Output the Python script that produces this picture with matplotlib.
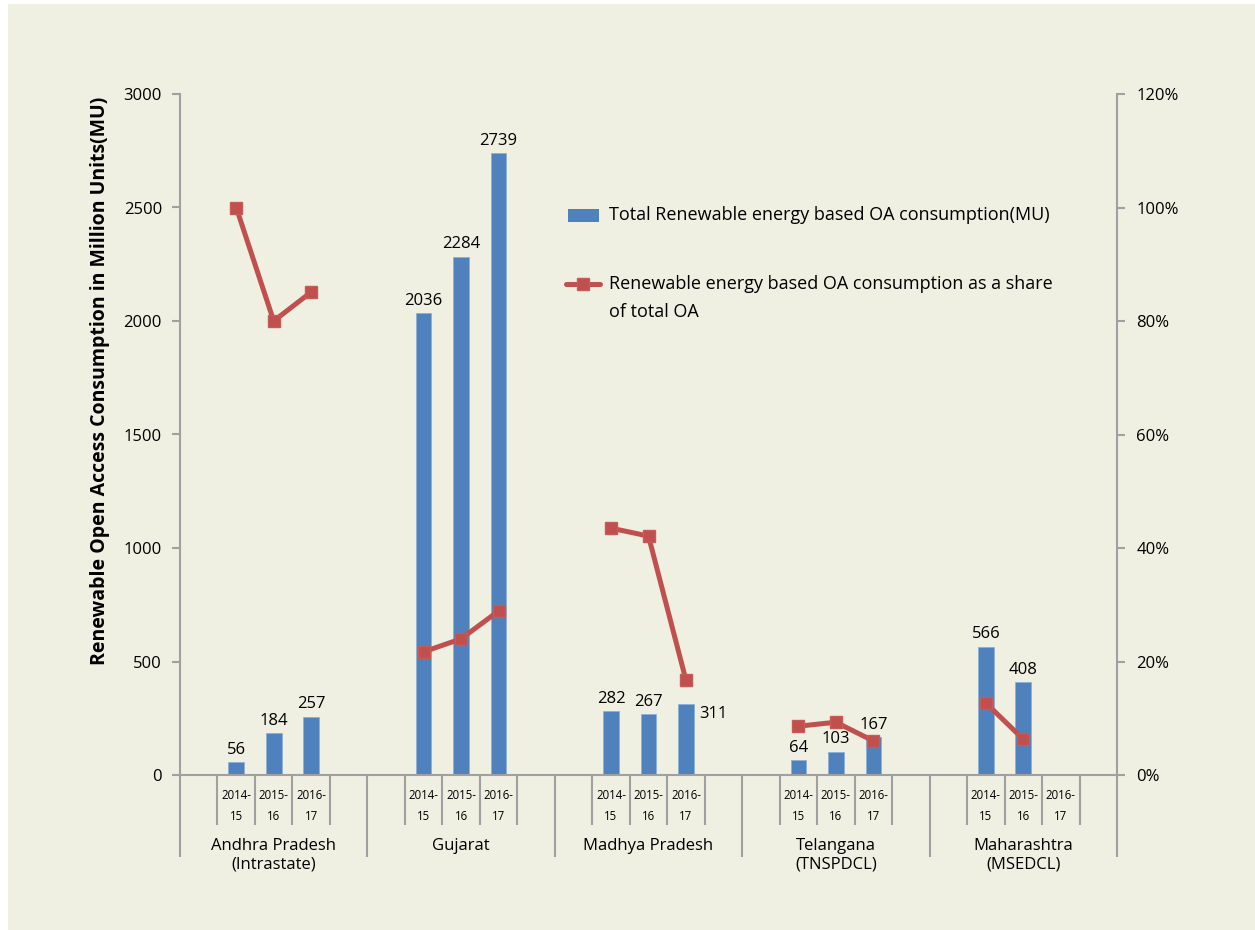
import matplotlib
matplotlib.use("Agg")
import matplotlib.pyplot as plt
from matplotlib.patches import Rectangle
from matplotlib.lines import Line2D
import numpy as np

# ---- data ----
states = ["Andhra Pradesh\n(Intrastate)", "Gujarat", "Madhya Pradesh",
          "Telangana\n(TNSPDCL)", "Maharashtra\n(MSEDCL)"]
years = ["2014-\n15", "2015-\n16", "2016-\n17"]
consumption_mu = [
    [56, 184, 257],
    [2036, 2284, 2739],
    [282, 267, 311],
    [64, 103, 167],
    [566, 408, None],
]
share_pct = [
    [100.0, 80.0, 85.1],
    [21.7, 24.0, 28.9],
    [43.5, 42.1, 16.7],
    [8.6, 9.3, 6.0],
    [12.7, 6.3, None],
]
y_ticks = [0, 500, 1000, 1500, 2000, 2500, 3000]
y2_ticks = [0, 20, 40, 60, 80, 100, 120]
bar_label = "Total Renewable energy based OA consumption(MU)"
line_label = "Renewable energy based OA consumption as a share\nof total OA"
y_title = "Renewable Open Access Consumption in Million Units(MU)"

# ---- style ----
BG = "#EFEFE2"
BLUE = "#4F81BD"
RED = "#C0504D"
GRAY = "#A0A0A0"
FONT = "Open Sans"
plt.rcParams["font.family"] = [FONT, "DejaVu Sans"]

W, H = 1255, 930
fig = plt.figure(figsize=(W / 100, H / 100), dpi=100, facecolor="white")
fig.add_artist(Rectangle((8 / W, 0), 1 - 8 / W, 1 - 4 / H, transform=fig.transFigure,
                         facecolor=BG, edgecolor="none", zorder=-10))

def fx(px):
    return px / W

def fy(py):
    return 1 - py / H

ax = fig.add_axes([fx(180), fy(775), fx(1117) - fx(180), fy(94) - fy(775)])
ax.set_facecolor("none")
ax2 = ax.twinx()
ax2.set_facecolor("none")

slots = 5
n_groups = len(states)
ax.set_xlim(0, slots * n_groups)
ax.set_ylim(0, 3000)
ax2.set_ylim(0, 120)

FS = 12
LEG_FS = 13
bar_w = 0.42
for g, vals in enumerate(consumption_mu):
    xs = [g * slots + 1 + i + 0.5 for i in range(len(years))]
    for i, v in enumerate(vals):
        if v is None:
            continue
        ax.bar(xs[i], v, width=bar_w, color=BLUE, edgecolor="#8DB0DA", linewidth=0.6, zorder=2)
        if g == 2 and i == 2:
            ax.annotate(str(v), (xs[i], v), xytext=(20, -7), textcoords="offset points",
                        ha="center", va="center", fontsize=FS, color="black")
        else:
            ax.annotate(str(v), (xs[i], v), xytext=(0, 3), textcoords="offset points",
                        ha="center", va="bottom", fontsize=FS, color="black")
    pts = [(x, s) for x, s in zip(xs, share_pct[g]) if s is not None]
    ax2.plot([p[0] for p in pts], [p[1] for p in pts], color=RED, lw=3.6,
             marker="s", ms=9, markerfacecolor=RED, markeredgecolor="#C85A57",
             solid_capstyle="round", zorder=3)

# y axes
ax.set_yticks(y_ticks)
ax.set_yticklabels([str(t) for t in y_ticks])
ax2.set_yticks(y2_ticks)
ax2.set_yticklabels([f"{t}%" for t in y2_ticks])
for a in (ax, ax2):
    for s in a.spines.values():
        s.set_color(GRAY)
        s.set_linewidth(1.5)
    a.spines["top"].set_visible(False)
ax.spines["right"].set_visible(False)
ax2.spines["left"].set_visible(False)
ax2.spines["bottom"].set_visible(False)
ax.tick_params(axis="y", direction="out", length=6, width=1.5, color=GRAY, pad=7,
               labelsize=FS, labelcolor="black")
ax2.tick_params(axis="y", direction="out", length=6, width=1.5, color=GRAY, pad=8,
                labelsize=FS, labelcolor="black")
ax.set_ylabel(y_title, fontsize=14, fontweight="bold", va="center")
ax.yaxis.set_label_coords((100 - 180) / 937, (775 - 381) / 681)

# x axis: slot boundaries
major = np.arange(0, slots * n_groups + 1, slots)
minor = [i for i in range(slots * n_groups + 1) if i % slots != 0]
ax.set_xticks(major)
ax.set_xticks(minor, minor=True)
ax.set_xticklabels([])
ax.tick_params(axis="x", which="major", direction="out", length=59, width=1.5, color=GRAY)
ax.tick_params(axis="x", which="minor", direction="out", length=36, width=1.5, color=GRAY)

xt = ax.get_xaxis_transform()
yr_y = -(806 - 775) / 681
grp_y = -(838 - 775) / 681
for g, name in enumerate(states):
    for i, yl in enumerate(years):
        ax.text(g * slots + 1 + i + 0.5, yr_y, yl, transform=xt, ha="center", va="center",
                fontsize=8.3, linespacing=1.75)
    ax.text(g * slots + slots / 2, grp_y, name, transform=xt, ha="center", va="top",
            fontsize=FS, linespacing=1.2)

# legend (manual, figure coords)
fig.add_artist(Rectangle((fx(568), fy(222)), fx(599) - fx(568), fy(209) - fy(222),
                         transform=fig.transFigure, facecolor=BLUE, edgecolor="none"))
fig.text(fx(609), fy(215), bar_label, ha="left", va="center", fontsize=LEG_FS)
fig.add_artist(Line2D([fx(566), fx(600)], [fy(284), fy(284)], transform=fig.transFigure,
                      color=RED, lw=3.6, solid_capstyle="round"))
fig.add_artist(Line2D([fx(583)], [fy(284)], transform=fig.transFigure, color=RED,
                      marker="s", ms=9, markeredgecolor="#C85A57"))
fig.text(fx(609), fy(284), line_label.split("\n")[0], ha="left", va="center", fontsize=LEG_FS)
fig.text(fx(609), fy(312), line_label.split("\n")[1], ha="left", va="center", fontsize=LEG_FS)

fig.savefig("out.png", dpi=100, facecolor=fig.get_facecolor())
